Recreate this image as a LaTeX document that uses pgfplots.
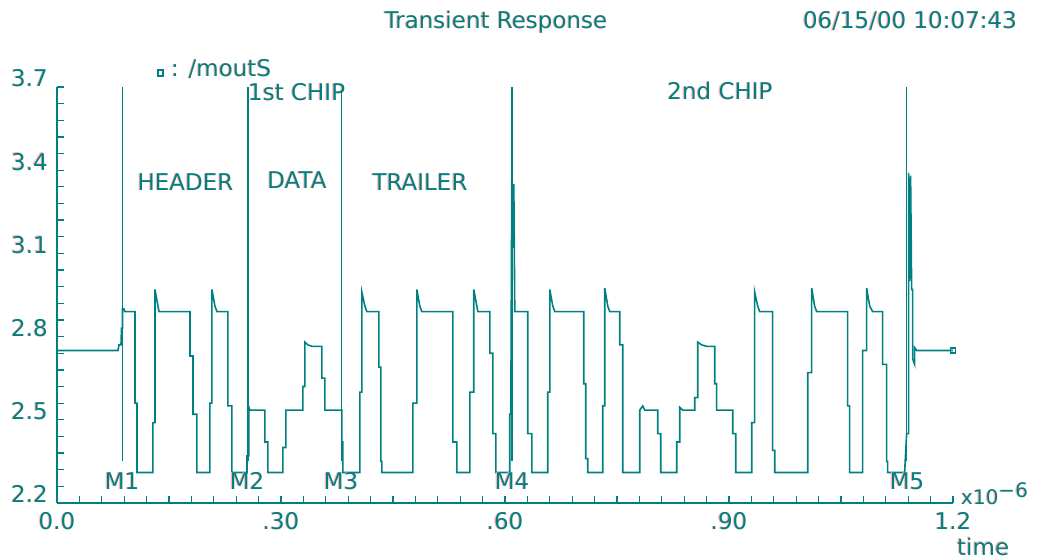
\documentclass[border=0pt]{standalone}
\usepackage{fontspec}
\usepackage{pgfplots}
\pgfplotsset{compat=1.18}
\usepackage{pgfplotstable}
\newfontfamily\pf{DejaVu Sans}
\definecolor{trace}{RGB}{0,128,128}
\definecolor{fringe}{RGB}{255,180,180}
\newcommand\fr[1]{\rlap{\textcolor{fringe}{\kern-1.1bp\raisebox{0.5bp}{#1}}}#1}
\newcommand\lf{\pf\fontsize{23bp}{26bp}\selectfont}

\pgfplotstableread{
t v
0.0000 2.75
0.0817 2.75
0.0830 2.77
0.0857 2.77
0.0864 2.83
0.0877 2.83
0.0877 2.90
0.0897 2.90
0.0910 2.89
0.1044 2.89
0.1044 2.56
0.1071 2.56
0.1071 2.31
0.1285 2.31
0.1285 2.49
0.1312 2.49
0.1312 2.97
0.1352 2.91
0.1366 2.89
0.1781 2.89
0.1781 2.73
0.1821 2.73
0.1821 2.52
0.1874 2.52
0.1874 2.31
0.2048 2.31
0.2048 2.56
0.2075 2.56
0.2075 2.97
0.2115 2.91
0.2142 2.89
0.2289 2.89
0.2289 2.55
0.2343 2.55
0.2343 2.31
0.2544 2.31
0.2544 2.37
0.2570 2.37
0.2570 2.545
0.2584 2.535
0.2785 2.535
0.2785 2.42
0.2825 2.42
0.2825 2.31
0.3025 2.31
0.3025 2.40
0.3066 2.40
0.3066 2.535
0.3293 2.535
0.3293 2.62
0.3320 2.62
0.3320 2.78
0.3360 2.77
0.3414 2.765
0.3548 2.765
0.3548 2.65
0.3588 2.65
0.3588 2.535
0.3815 2.535
0.3815 2.42
0.3829 2.42
0.3829 2.31
0.4056 2.31
0.4056 2.60
0.4083 2.60
0.4083 2.96
0.4123 2.91
0.4150 2.89
0.4311 2.89
0.4311 2.69
0.4337 2.69
0.4337 2.35
0.4351 2.35
0.4351 2.31
0.4766 2.31
0.4766 2.56
0.4819 2.56
0.4819 2.97
0.4859 2.91
0.4886 2.89
0.5301 2.89
0.5301 2.42
0.5355 2.42
0.5355 2.31
0.5529 2.31
0.5529 2.60
0.5582 2.60
0.5582 2.97
0.5623 2.91
0.5636 2.89
0.5797 2.89
0.5797 2.74
0.5837 2.74
0.5837 2.45
0.5877 2.45
0.5877 2.31
0.6064 2.31
0.6064 2.52
0.6078 2.52
0.6091 3.37
0.6104 3.12
0.6118 3.35
0.6131 2.89
0.6305 2.89
0.6305 2.45
0.6359 2.45
0.6359 2.31
0.6573 2.31
0.6573 2.60
0.6600 2.60
0.6600 2.97
0.6640 2.91
0.6667 2.89
0.7055 2.89
0.7055 2.63
0.7082 2.63
0.7082 2.36
0.7108 2.36
0.7108 2.31
0.7309 2.31
0.7309 2.55
0.7336 2.55
0.7336 2.975
0.7376 2.91
0.7403 2.89
0.7537 2.89
0.7537 2.77
0.7577 2.77
0.7577 2.31
0.7805 2.31
0.7805 2.535
0.7845 2.55
0.7871 2.535
0.8046 2.535
0.8046 2.45
0.8086 2.45
0.8086 2.31
0.8300 2.31
0.8300 2.42
0.8340 2.42
0.8340 2.545
0.8380 2.535
0.8541 2.535
0.8541 2.58
0.8581 2.58
0.8581 2.78
0.8635 2.77
0.8702 2.765
0.8809 2.765
0.8809 2.63
0.8835 2.63
0.8835 2.535
0.9050 2.535
0.9050 2.45
0.9090 2.45
0.9090 2.31
0.9304 2.31
0.9304 2.49
0.9344 2.49
0.9344 2.96
0.9384 2.91
0.9411 2.89
0.9585 2.89
0.9585 2.39
0.9612 2.39
0.9612 2.31
1.0054 2.31
1.0054 2.67
1.0107 2.67
1.0107 2.975
1.0147 2.91
1.0174 2.89
1.0589 2.89
1.0589 2.55
1.0616 2.55
1.0616 2.31
1.0790 2.31
1.0790 2.75
1.0843 2.75
1.0843 2.975
1.0884 2.91
1.0924 2.89
1.1058 2.89
1.1058 2.70
1.1111 2.70
1.1111 2.35
1.1125 2.35
1.1125 2.31
1.1352 2.31
1.1379 2.45
1.1406 2.45
1.1406 3.39
1.1419 3.00
1.1432 3.38
1.1446 2.97
1.1459 2.97
1.1459 2.72
1.1486 2.70
1.1486 2.76
1.1513 2.75
1.2000 2.75
}\trace

\begin{document}
\begin{tikzpicture}
\useasboundingbox (0,0) rectangle (1042bp,559bp);
\begin{axis}[
  at={(57bp,56bp)}, anchor=south west,
  scale only axis, width=896bp, height=416bp,
  xmin=0, xmax=1.2, ymin=2.2, ymax=3.7,
  axis x line=bottom, axis y line=left,
  axis line style={-, draw=trace, line width=1.6bp},
  tick style={draw=trace, line width=1.3bp},
  tick align=inside,
  major tick length=7bp, minor tick length=7bp,
  xtick={0,0.3,0.6,0.9,1.2},
  xticklabels={\fr{0.0},\fr{.30},\fr{.60},\fr{.90},\fr{1.2}},
  minor x tick num=9,
  ytick={2.2,2.5,2.8,3.1,3.4,3.7},
  yticklabels={\fr{2.2},\fr{2.5},\fr{2.8},\fr{3.1},\fr{3.4},\fr{3.7}},
  minor y tick num=4,
  ticklabel style={font=\lf, text=trace, inner sep=0pt},
  xticklabel style={anchor=base, yshift=-27bp},
  yticklabel style={anchor=base east, xshift=-9bp},
  clip=false,
  tr/.style={trace, line width=1.6bp, forget plot},
]
% cursor lines M1..M5
\addplot[tr] coordinates {(0.0877,2.35) (0.0877,3.7)};
\addplot[tr] coordinates {(0.2557,2.35) (0.2557,3.7)};
\addplot[tr] coordinates {(0.3809,2.35) (0.3809,3.7)};
\addplot[tr] coordinates {(0.6091,2.35) (0.6091,3.7)};
\addplot[tr] coordinates {(1.1379,2.35) (1.1379,3.7)};
% trace /moutS
\addplot[tr] table[x=t,y=v]{\trace};
\addplot[trace, only marks, mark=square, mark size=2.4bp, mark options={line width=1.3bp}] coordinates {(1.2,2.75)};
\end{axis}
\begin{scope}[every node/.style={font=\lf, text=trace, inner sep=0pt}]
\node[anchor=base] at (496bp,530bp) {\fr{Transient Response}};
\node[anchor=base] at (910bp,530bp) {\fr{06/15/00 10:07:43}};
\draw[trace, line width=1.3bp] (158bp,483bp) rectangle (163bp,489bp);
\node[anchor=base west] at (171bp,482bp) {\fr{: /moutS}};
\node[anchor=base west] at (248bp,458bp) {\fr{1st CHIP}};
\node[anchor=base] at (720bp,459bp) {\fr{2nd CHIP}};
\node[anchor=base] at (185.5bp,368bp) {\fr{HEADER}};
\node[anchor=base] at (297bp,370bp) {\fr{DATA}};
\node[anchor=base] at (420bp,368bp) {\fr{TRAILER}};
\node[anchor=base] at (122bp,69bp) {\fr{M1}};
\node[anchor=base] at (247bp,69bp) {\fr{M2}};
\node[anchor=base] at (341bp,69bp) {\fr{M3}};
\node[anchor=base] at (512bp,69bp) {\fr{M4}};
\node[anchor=base] at (907bp,69bp) {\fr{M5}};
\node[anchor=base west] at (961bp,54bp) {\fontsize{20bp}{20bp}\selectfont\fr{x10\raisebox{7bp}{−6}}};
\node[anchor=base west] at (957bp,4bp) {\fr{time}};
\end{scope}
\end{tikzpicture}
\end{document}
